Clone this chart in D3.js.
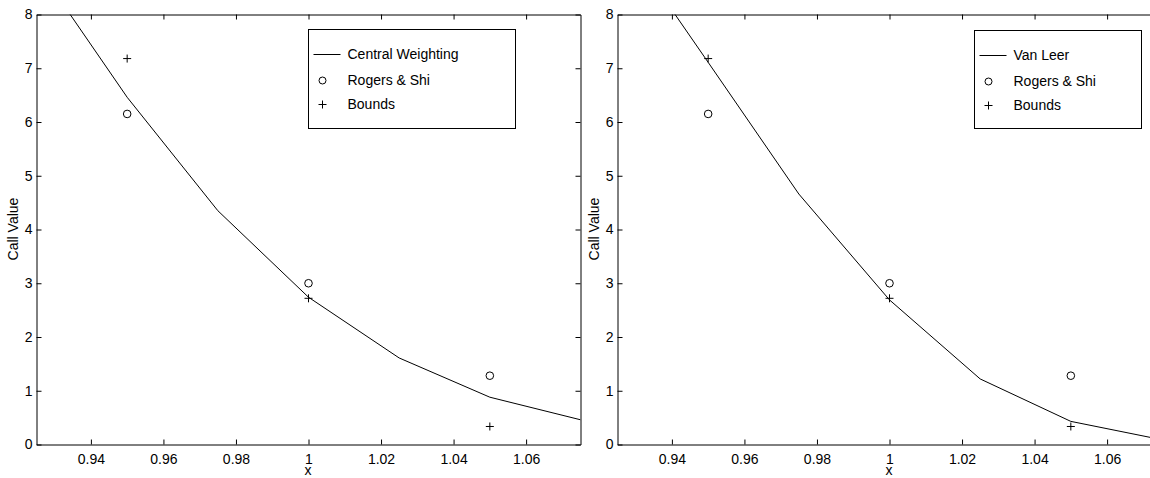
<!DOCTYPE html>
<html>
<head>
<meta charset="utf-8">
<script src="https://cdn.jsdelivr.net/npm/d3@7"></script>
<style>
  html, body { margin: 0; padding: 0; background: #fff; }
  svg { display: block; }
  text { font-family: "Liberation Sans", Arial, Helvetica, sans-serif; fill: #000; }
</style>
</head>
<body>
<svg id="fig" width="1150" height="478"></svg>
<script>
// Grid of strike ratios used by both finite-difference schemes
const gridX = [0.925, 0.95, 0.975, 1.0, 1.025, 1.05, 1.075];
// Call values from the central-weighting scheme
const centralWeighting = [8.91, 6.46, 4.35, 2.74, 1.61, 0.88, 0.46];
// Call values from the Van Leer scheme
const vanLeer = [9.55, 7.11, 4.66, 2.69, 1.22, 0.43, 0.09];
// Reference strikes with Rogers & Shi estimates and bounds
const refX = [0.95, 1.0, 1.05];
const rogersShi = [6.15, 3.00, 1.28];
const bounds = [7.18, 2.72, 0.335];
// Axis ticks
const xTicks = [0.94, 0.96, 0.98, 1.0, 1.02, 1.04, 1.06];
const yTicks = [0, 1, 2, 3, 4, 5, 6, 7, 8];

const svg = d3.select("#fig");
const plotTop = 14, plotBottom = 444, plotWidth = 544;

const panels = [
  { left: 36, name: "Central Weighting", values: centralWeighting,
    legend: { x: 308, y: 29, w: 207, h: 99 } },
  { left: 617, name: "Van Leer", values: vanLeer,
    legend: { x: 974, y: 30, w: 167, h: 98 } }
];

const fmt = d => (d === 1 ? "1" : d3.format(".2f")(d));
const plusPath = "M-4,0H4M0,-4V4";

panels.forEach((p, i) => {
  const x = d3.scaleLinear().domain([0.925, 1.075]).range([p.left, p.left + plotWidth]);
  const y = d3.scaleLinear().domain([0, 8]).range([plotBottom, plotTop]);
  const g = svg.append("g").attr("transform", "translate(0.5,0.5)");

  const clipId = "clip" + i;
  svg.append("defs").append("clipPath").attr("id", clipId)
    .append("rect").attr("x", p.left).attr("y", plotTop)
    .attr("width", plotWidth).attr("height", plotBottom - plotTop);

  // Scheme curve
  g.append("path")
    .datum(gridX.map((d, k) => [d, p.values[k]]))
    .attr("clip-path", `url(#${clipId})`)
    .attr("fill", "none").attr("stroke", "#000").attr("stroke-width", 1)
    .attr("d", d3.line().x(d => x(d[0])).y(d => y(d[1])));

  // Rogers & Shi circles
  g.selectAll(".rs").data(refX).join("circle")
    .attr("cx", d => x(d)).attr("cy", (d, k) => y(rogersShi[k]))
    .attr("r", 3.8).attr("fill", "none").attr("stroke", "#000").attr("stroke-width", 1);

  // Bounds as plus markers
  g.selectAll(".bd").data(refX).join("path")
    .attr("transform", (d, k) => `translate(${x(d)},${y(bounds[k])})`)
    .attr("d", plusPath)
    .attr("fill", "none").attr("stroke", "#000").attr("stroke-width", 1);

  // Axes with inward ticks on all four sides
  const styleAxis = sel => {
    sel.selectAll("path.domain").attr("stroke", "#000").attr("stroke-width", 1);
    sel.selectAll(".tick line").attr("stroke", "#000");
    sel.selectAll("text").style("font-size", "14px").attr("fill", "#000")
      .style("font-family", '"Liberation Sans", Arial, sans-serif');
  };
  g.append("g").attr("transform", `translate(0,${plotBottom})`)
    .call(d3.axisBottom(x).tickValues(xTicks).tickFormat(fmt)
      .tickSizeInner(-5).tickSizeOuter(0).tickPadding(10))
    .call(styleAxis);
  g.append("g").attr("transform", `translate(0,${plotTop})`)
    .call(d3.axisTop(x).tickValues(xTicks).tickFormat("")
      .tickSizeInner(-5).tickSizeOuter(0))
    .call(styleAxis);
  g.append("g").attr("transform", `translate(${p.left},0)`)
    .call(d3.axisLeft(y).tickValues(yTicks).tickFormat(d3.format("d"))
      .tickSizeInner(-5).tickSizeOuter(0).tickPadding(4))
    .call(styleAxis);
  g.append("g").attr("transform", `translate(${p.left + plotWidth},0)`)
    .call(d3.axisRight(y).tickValues(yTicks).tickFormat("")
      .tickSizeInner(-5).tickSizeOuter(0))
    .call(styleAxis);

  // Axis titles
  svg.append("text").attr("x", p.left + plotWidth / 2).attr("y", 475)
    .attr("text-anchor", "middle").style("font-size", "14px").text("x");
  svg.append("text")
    .attr("transform", `translate(${p.left - 18},${(plotTop + plotBottom) / 2}) rotate(-90)`)
    .attr("text-anchor", "middle").style("font-size", "14px").text("Call Value");

  // Legend
  const L = p.legend;
  const lg = svg.append("g").attr("transform", "translate(0.5,0.5)");
  lg.append("rect").attr("x", L.x).attr("y", L.y).attr("width", L.w).attr("height", L.h)
    .attr("fill", "#fff").attr("stroke", "#000").attr("stroke-width", 1);
  const rows = [L.y + 25, L.y + 51, L.y + 75];
  const sx = L.x + 5, ex = L.x + 32, mx = L.x + 14, tx = L.x + 39;
  lg.append("line").attr("x1", sx).attr("x2", ex).attr("y1", rows[0]).attr("y2", rows[0])
    .attr("stroke", "#000");
  lg.append("circle").attr("cx", mx).attr("cy", rows[1]).attr("r", 3.5)
    .attr("fill", "none").attr("stroke", "#000");
  lg.append("path").attr("transform", `translate(${mx},${rows[2]})`)
    .attr("d", plusPath).attr("stroke", "#000").attr("fill", "none");
  [p.name, "Rogers & Shi", "Bounds"].forEach((t, k) => {
    lg.append("text").attr("x", tx).attr("y", rows[k]).attr("dy", "0.35em")
      .style("font-size", "14px").text(t);
  });
});
</script>
</body>
</html>
